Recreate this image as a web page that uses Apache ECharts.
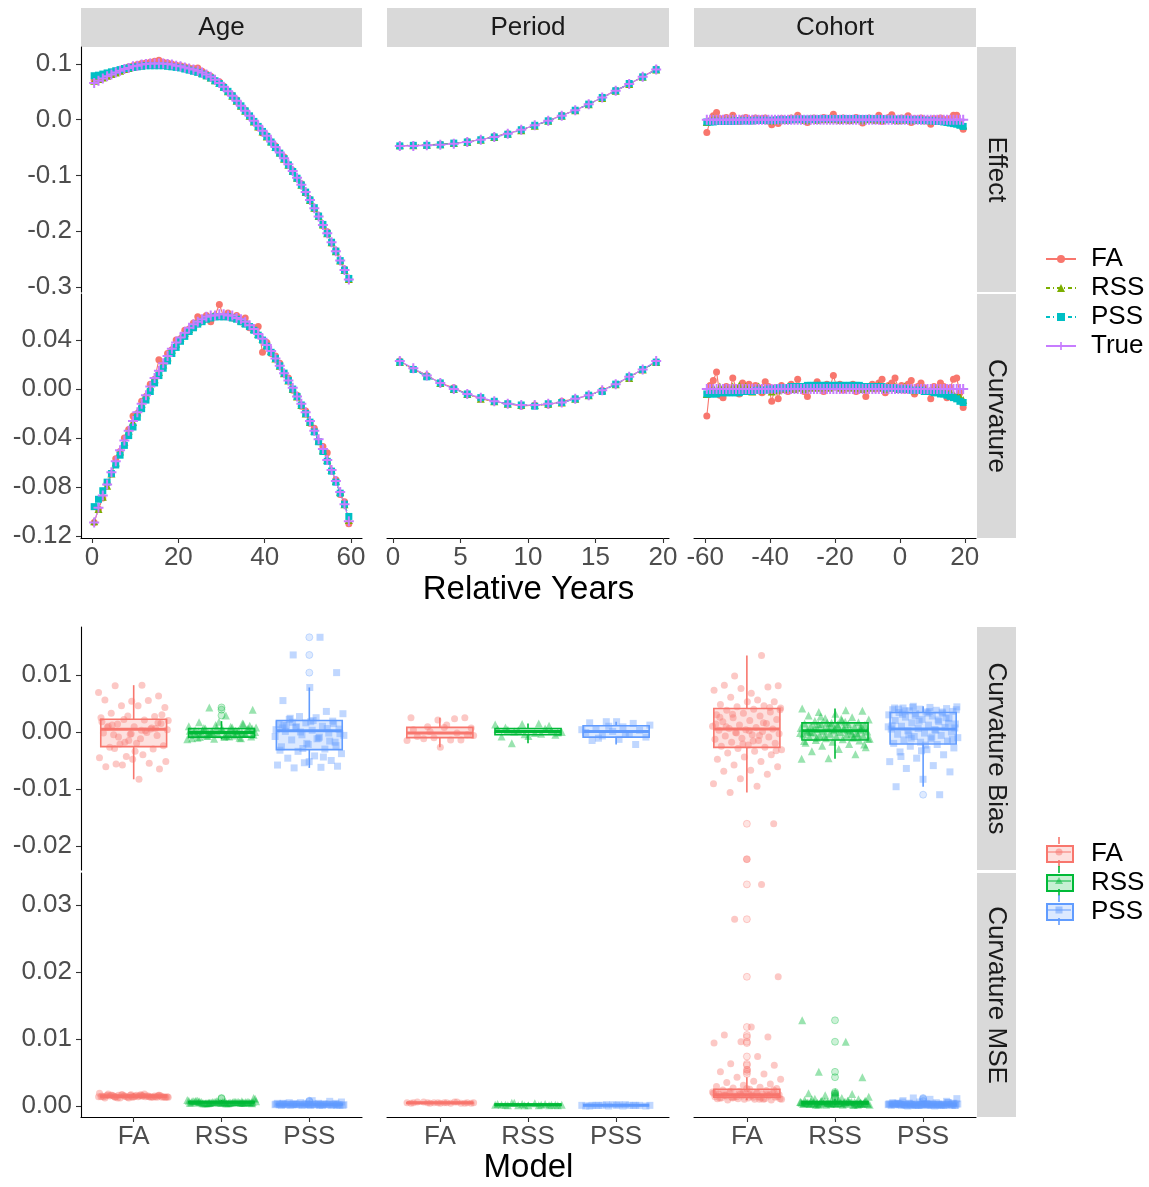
<!DOCTYPE html>
<html>
<head>
<meta charset="utf-8">
<script src="https://cdn.jsdelivr.net/npm/echarts@6/dist/echarts.min.js"></script>
<style>
  html, body { margin: 0; padding: 0; background: #fff; }
  #chart { width: 1149px; height: 1187px; }
</style>
</head>
<body>
<div id="chart"></div>
<script>
// ---- x positions ----
const ageX = [0.5,1.5,2.5,3.5,4.5,5.5,6.5,7.5,8.5,9.5,
  10.5,11.5,12.5,13.5,14.5,15.5,16.5,17.5,18.5,19.5,
  20.5,21.5,22.5,23.5,24.5,25.5,26.5,27.5,28.5,29.5,
  30.5,31.5,32.5,33.5,34.5,35.5,36.5,37.5,38.5,39.5,
  40.5,41.5,42.5,43.5,44.5,45.5,46.5,47.5,48.5,49.5,
  50.5,51.5,52.5,53.5,54.5,55.5,56.5,57.5,58.5,59.5];
const periodX = [0.5,1.5,2.5,3.5,4.5,5.5,6.5,7.5,8.5,9.5,
  10.5,11.5,12.5,13.5,14.5,15.5,16.5,17.5,18.5,19.5];
const cohortX = [-59.5,-58.5,-57.5,-56.5,-55.5,-54.5,-53.5,-52.5,-51.5,-50.5,
  -49.5,-48.5,-47.5,-46.5,-45.5,-44.5,-43.5,-42.5,-41.5,-40.5,
  -39.5,-38.5,-37.5,-36.5,-35.5,-34.5,-33.5,-32.5,-31.5,-30.5,
  -29.5,-28.5,-27.5,-26.5,-25.5,-24.5,-23.5,-22.5,-21.5,-20.5,
  -19.5,-18.5,-17.5,-16.5,-15.5,-14.5,-13.5,-12.5,-11.5,-10.5,
  -9.5,-8.5,-7.5,-6.5,-5.5,-4.5,-3.5,-2.5,-1.5,-0.5,
  0.5,1.5,2.5,3.5,4.5,5.5,6.5,7.5,8.5,9.5,
  10.5,11.5,12.5,13.5,14.5,15.5,16.5,17.5,18.5,19.5];

// ---- Age effect ----
const effAgeFA = [0.071,0.073,0.076,0.079,0.082,0.086,0.089,0.092,0.095,0.097,
  0.099,0.101,0.102,0.103,0.105,0.107,0.103,0.102,0.100,0.098,
  0.097,0.095,0.093,0.092,0.093,0.087,0.082,0.078,0.070,0.068,
  0.060,0.050,0.044,0.036,0.024,0.017,0.006,-0.004,-0.014,-0.024,
  -0.029,-0.040,-0.047,-0.060,-0.067,-0.082,-0.091,-0.106,-0.115,-0.131,
  -0.143,-0.160,-0.172,-0.190,-0.201,-0.222,-0.235,-0.254,-0.268,-0.287];
const effAgeRSS = [0.070,0.073,0.076,0.079,0.082,0.085,0.088,0.091,0.093,0.095,
  0.097,0.098,0.099,0.100,0.100,0.100,0.100,0.099,0.098,0.097,
  0.095,0.094,0.092,0.090,0.087,0.084,0.080,0.076,0.071,0.066,
  0.059,0.051,0.043,0.034,0.025,0.016,0.007,-0.003,-0.012,-0.021,
  -0.030,-0.039,-0.049,-0.059,-0.070,-0.081,-0.092,-0.104,-0.117,-0.130,
  -0.144,-0.158,-0.173,-0.188,-0.204,-0.220,-0.236,-0.253,-0.270,-0.286];
const effAgePSS = [0.079,0.080,0.082,0.084,0.086,0.088,0.090,0.092,0.093,0.094,
  0.095,0.096,0.097,0.097,0.097,0.097,0.097,0.096,0.095,0.094,
  0.093,0.091,0.089,0.087,0.085,0.082,0.079,0.075,0.070,0.065,
  0.058,0.051,0.043,0.034,0.025,0.016,0.007,-0.003,-0.012,-0.021,
  -0.030,-0.040,-0.050,-0.060,-0.070,-0.081,-0.093,-0.105,-0.117,-0.130,
  -0.144,-0.158,-0.173,-0.188,-0.204,-0.220,-0.236,-0.253,-0.270,-0.285];
const effAgeTrue = [0.066,0.070,0.074,0.078,0.081,0.085,0.088,0.091,0.093,0.096,
  0.097,0.099,0.100,0.101,0.101,0.101,0.101,0.100,0.099,0.097,
  0.096,0.094,0.092,0.090,0.088,0.085,0.081,0.077,0.072,0.066,
  0.059,0.051,0.043,0.034,0.025,0.016,0.007,-0.002,-0.011,-0.020,
  -0.029,-0.039,-0.049,-0.059,-0.069,-0.080,-0.092,-0.104,-0.117,-0.130,
  -0.144,-0.159,-0.174,-0.189,-0.204,-0.220,-0.236,-0.253,-0.270,-0.287];

// ---- Age curvature ----
const curAgeFA = [-0.109,-0.098,-0.089,-0.077,-0.069,-0.057,-0.051,-0.040,-0.033,-0.022,
  -0.020,-0.010,-0.006,0.004,0.008,0.024,0.020,0.029,0.032,0.040,
  0.041,0.048,0.049,0.054,0.059,0.056,0.060,0.055,0.060,0.069,
  0.059,0.062,0.058,0.060,0.055,0.058,0.050,0.049,0.051,0.030,
  0.038,0.029,0.027,0.021,0.013,0.009,-0.001,-0.005,-0.014,-0.018,
  -0.028,-0.032,-0.043,-0.047,-0.052,-0.067,-0.074,-0.086,-0.092,-0.110];
const curAgeRSS = [-0.108,-0.098,-0.088,-0.079,-0.069,-0.060,-0.051,-0.043,-0.034,-0.027,
  -0.019,-0.012,-0.005,0.002,0.008,0.014,0.020,0.026,0.032,0.037,
  0.042,0.046,0.049,0.052,0.055,0.057,0.058,0.059,0.060,0.060,
  0.060,0.060,0.059,0.058,0.056,0.054,0.052,0.049,0.045,0.041,
  0.036,0.031,0.025,0.019,0.013,0.007,0.000,-0.006,-0.013,-0.020,
  -0.027,-0.034,-0.042,-0.050,-0.058,-0.066,-0.075,-0.084,-0.094,-0.107];
const curAgePSS = [-0.096,-0.090,-0.083,-0.076,-0.069,-0.062,-0.054,-0.046,-0.038,-0.031,
  -0.023,-0.016,-0.009,-0.002,0.005,0.011,0.017,0.023,0.029,0.034,
  0.039,0.043,0.047,0.050,0.053,0.055,0.057,0.058,0.059,0.059,
  0.059,0.059,0.058,0.057,0.055,0.053,0.051,0.048,0.044,0.040,
  0.035,0.030,0.025,0.019,0.013,0.007,0.000,-0.006,-0.013,-0.020,
  -0.027,-0.035,-0.043,-0.051,-0.059,-0.067,-0.076,-0.085,-0.094,-0.104];
const curAgeTrue = [-0.109,-0.097,-0.087,-0.078,-0.068,-0.059,-0.050,-0.042,-0.034,-0.026,
  -0.019,-0.012,-0.005,0.002,0.009,0.015,0.021,0.027,0.033,0.038,
  0.042,0.046,0.050,0.053,0.055,0.057,0.059,0.060,0.060,0.061,
  0.061,0.060,0.060,0.058,0.057,0.055,0.052,0.049,0.045,0.041,
  0.036,0.031,0.025,0.019,0.013,0.007,0.001,-0.006,-0.012,-0.019,
  -0.026,-0.034,-0.041,-0.049,-0.058,-0.066,-0.075,-0.084,-0.094,-0.108];

// ---- Period effect / curvature ----
const effPerFA = [-0.047,-0.046,-0.046,-0.044,-0.043,-0.039,-0.036,-0.030,-0.025,-0.018,
  -0.010,-0.002,0.008,0.017,0.028,0.040,0.053,0.064,0.077,0.091];
const effPerRSS = [-0.046,-0.046,-0.045,-0.044,-0.042,-0.040,-0.036,-0.031,-0.025,-0.019,
  -0.011,-0.002,0.007,0.017,0.028,0.039,0.052,0.064,0.077,0.090];
const effPerPSS = [-0.047,-0.046,-0.046,-0.045,-0.042,-0.040,-0.036,-0.031,-0.026,-0.018,
  -0.010,-0.002,0.007,0.017,0.028,0.040,0.052,0.065,0.077,0.090];
const effPerTrue = [-0.047,-0.047,-0.046,-0.045,-0.043,-0.040,-0.036,-0.031,-0.025,-0.018,
  -0.010,-0.002,0.007,0.017,0.028,0.040,0.052,0.064,0.077,0.090];
const curPerFA = [0.023,0.016,0.011,0.005,0.001,-0.004,-0.008,-0.010,-0.012,-0.014,
  -0.013,-0.013,-0.010,-0.008,-0.005,-0.001,0.004,0.010,0.016,0.022];
const curPerRSS = [0.022,0.017,0.011,0.005,0.000,-0.004,-0.008,-0.010,-0.012,-0.013,
  -0.013,-0.012,-0.011,-0.008,-0.005,-0.001,0.004,0.009,0.016,0.022];
const curPerPSS = [0.022,0.016,0.010,0.005,0.000,-0.004,-0.007,-0.010,-0.012,-0.013,
  -0.014,-0.012,-0.011,-0.008,-0.005,-0.002,0.004,0.010,0.016,0.022];
const curPerTrue = [0.023,0.017,0.011,0.005,0.000,-0.004,-0.007,-0.010,-0.012,-0.013,
  -0.013,-0.012,-0.011,-0.008,-0.005,-0.001,0.004,0.010,0.016,0.023];

// ---- Cohort effect ----
const effCohFA = [-0.023,-0.002,0.007,0.013,0.002,-0.003,0.004,0.001,0.008,-0.001,
  -0.003,0.002,0.004,-0.002,0.001,0.003,-0.001,0.002,0.003,-0.002,
  -0.009,0.000,-0.007,0.002,0.001,-0.002,0.003,0.001,0.008,0.002,
  -0.001,-0.005,0.002,0.003,-0.001,0.002,0.004,0.001,0.003,0.010,
  0.002,-0.001,0.003,0.001,-0.002,0.002,0.004,0.000,-0.006,0.001,
  0.003,0.002,-0.001,0.008,-0.003,0.002,0.004,0.009,0.001,-0.002,
  0.003,0.001,0.007,-0.005,0.002,0.000,0.003,-0.002,0.001,-0.008,
  0.002,-0.001,0.003,0.001,-0.003,0.002,0.008,0.008,-0.004,-0.017];
const effCohRSS = [-0.004,0.001,0.003,0.002,0.000,-0.001,0.002,0.000,0.003,0.001,
  -0.001,0.002,0.000,0.001,-0.001,0.002,0.001,0.000,0.002,-0.001,
  -0.002,0.001,-0.001,0.002,0.000,0.001,0.002,0.001,0.003,0.001,
  0.000,-0.001,0.002,0.001,0.000,0.002,0.001,0.002,0.001,0.003,
  0.001,0.000,0.002,0.001,0.000,0.001,0.002,0.001,-0.001,0.001,
  0.002,0.001,0.000,0.002,0.000,0.001,0.002,0.002,0.000,-0.001,
  0.001,0.000,0.002,-0.001,0.000,0.000,0.001,-0.001,0.000,-0.002,
  0.000,-0.001,0.000,-0.001,-0.002,-0.003,-0.002,-0.004,-0.007,-0.010];
const effCohPSS = [-0.004,-0.004,-0.004,-0.003,-0.003,-0.003,-0.003,-0.003,-0.003,-0.002,
  -0.002,-0.002,-0.002,-0.002,-0.002,-0.001,-0.001,-0.001,-0.001,-0.001,
  -0.001,-0.001,0.000,0.000,0.000,0.000,0.000,0.001,0.001,0.001,
  0.001,0.001,0.001,0.001,0.001,0.002,0.002,0.002,0.002,0.002,
  0.002,0.002,0.002,0.002,0.002,0.002,0.002,0.002,0.002,0.002,
  0.002,0.002,0.002,0.002,0.002,0.001,0.001,0.001,0.001,0.001,
  0.001,0.001,0.000,0.000,0.000,0.000,-0.001,-0.001,-0.001,-0.002,
  -0.002,-0.003,-0.003,-0.004,-0.005,-0.006,-0.007,-0.008,-0.010,-0.012];
const effCohTrue = [0,0,0,0,0,0,0,0,0,0, 0,0,0,0,0,0,0,0,0,0,
  0,0,0,0,0,0,0,0,0,0, 0,0,0,0,0,0,0,0,0,0,
  0,0,0,0,0,0,0,0,0,0, 0,0,0,0,0,0,0,0,0,0,
  0,0,0,0,0,0,0,0,0,0, 0,0,0,0,0,0,0,0,0,0];

// ---- Cohort curvature ----
const curCohFA = [-0.022,0.003,0.007,0.014,-0.005,-0.007,0.002,-0.002,0.009,0.001,
  -0.004,0.005,0.001,0.004,-0.002,0.003,0.001,-0.003,0.006,0.002,
  -0.010,0.001,-0.008,0.003,0.000,-0.002,0.004,0.002,0.008,0.001,
  -0.002,-0.006,0.002,0.003,0.006,0.001,-0.002,0.004,0.002,0.011,
  0.002,0.004,-0.001,0.003,0.001,0.004,-0.002,0.002,0.001,-0.006,
  0.002,0.004,0.000,0.005,0.008,-0.003,0.003,0.005,0.009,0.001,
  0.003,-0.001,0.004,0.007,-0.004,0.002,0.005,0.001,-0.002,-0.008,
  0.002,0.000,0.005,0.002,-0.007,0.001,0.008,0.009,-0.003,-0.015];
const curCohRSS = [-0.004,-0.002,0.001,-0.002,0.002,-0.001,0.001,-0.002,0.002,0.000,
  0.003,-0.001,0.002,0.001,-0.002,0.001,0.002,-0.001,0.001,0.000,
  -0.002,0.001,-0.001,0.001,0.000,0.002,0.001,0.000,0.002,0.001,
  0.000,0.001,0.002,0.001,0.003,0.001,0.002,0.002,0.001,0.002,
  0.003,0.001,0.002,0.002,0.001,0.003,0.001,0.002,0.000,0.001,
  0.002,0.001,0.002,0.003,0.001,0.000,0.002,0.001,0.002,0.000,
  0.001,0.002,0.000,0.001,-0.001,0.001,0.000,0.001,-0.001,0.000,
  -0.001,0.001,-0.002,-0.001,-0.003,-0.002,-0.004,-0.005,-0.006,-0.009];
const curCohPSS = [-0.004,-0.004,-0.004,-0.004,-0.003,-0.003,-0.003,-0.003,-0.003,-0.003,
  -0.003,-0.002,-0.002,-0.002,-0.002,-0.001,-0.001,-0.001,-0.001,0.000,
  0.000,0.000,0.001,0.001,0.001,0.001,0.002,0.002,0.002,0.002,
  0.002,0.003,0.003,0.003,0.003,0.003,0.003,0.003,0.003,0.003,
  0.003,0.003,0.003,0.003,0.003,0.003,0.003,0.003,0.002,0.002,
  0.002,0.002,0.002,0.002,0.002,0.001,0.001,0.001,0.001,0.000,
  0.000,0.000,0.000,-0.001,-0.001,-0.001,-0.001,-0.002,-0.002,-0.002,
  -0.003,-0.003,-0.004,-0.004,-0.005,-0.006,-0.007,-0.008,-0.010,-0.011];
const curCohTrue = [0,0,0,0,0,0,0,0,0,0, 0,0,0,0,0,0,0,0,0,0,
  0,0,0,0,0,0,0,0,0,0, 0,0,0,0,0,0,0,0,0,0,
  0,0,0,0,0,0,0,0,0,0, 0,0,0,0,0,0,0,0,0,0,
  0,0,0,0,0,0,0,0,0,0, 0,0,0,0,0,0,0,0,0,0];

// ---- Curvature bias points (x 1e-3) ----
const biasAgeFA = [6.9,8.2,8.1,6.3,5.4,5.6,5.5,4.6,4.3,4.6,3.3,2.7,2.8,2.5,2.1,1.4,1.5,0.9,0.8,0.5,
  2.2,0.4,-1.2,-0.5,-0.6,-0.4,-0.2,-0.1,-2.1,-2.4,-2.0,-2.7,-3.0,-4.3,-4.5,-4.0,-5.6,-6.5,-4.8,-6.1,
  -5.5,-5.8,-5.2,-8.3,1.2,0.6,-1.5,1.8,0.2,-0.9,3.0,-3.4,1.0,0.7,-1.8,2.0,0.3,-2.9,1.6,-0.3];
const biasAgeRSS = [4.3,3.9,2.9,1.7,1.5,1.2,1.0,0.8,0.6,0.5,0.4,0.3,0.2,0.1,0.0,-0.1,-0.2,-0.3,-0.4,-0.5,
  -0.6,-0.7,-0.8,-0.9,-1.0,-1.1,-1.2,-1.3,0.9,0.7,0.5,0.3,0.1,-0.1,-0.3,-0.5,-0.7,-0.9,1.4,0.6,
  0.2,-0.2,-0.6,1.1,0.4,-0.4,-1.0,0.0,0.8,-0.8,0.3,-0.3,1.8,-1.1,0.2,-0.2,0.6,-0.6,0.1,-0.1];
const biasAgePSS = [16.6,13.5,10.4,7.8,5.5,3.6,2.7,3.2,2.5,2.2,1.9,1.6,1.3,1.0,0.8,0.5,0.3,0.1,-0.2,-0.5,
  -0.8,-1.1,-1.4,-1.8,-2.2,-2.6,-3.0,-3.4,-3.8,-4.2,-4.6,-5.0,-5.4,-5.8,-6.2,-6.3,-6.0,1.8,1.2,0.6,
  0.0,-0.6,-1.2,2.4,1.5,-2.0,-3.2,-4.4,0.9,-0.3,2.0,1.1,-1.6,-2.9,0.4,-0.9,1.7,-2.4,-5.2,0.7];
const biasPerFA = [2.5,2.1,2.5,2.3,0.9,0.7,0.8,-0.8,-1.4,-1.0,-1.5,-1.4,-1.2,-0.5,-2.7,0.4,-0.2,0.1,-0.6,1.2];
const biasPerRSS = [0.8,1.1,1.4,1.3,1.5,-2.0,-0.5,-0.7,-0.8,0.6,0.3,0.0,-0.2,0.4,0.2,-0.4,0.5,-0.3,0.1,-0.1];
const biasPerPSS = [1.8,1.6,1.5,1.8,1.2,0.9,0.6,0.3,0.1,-0.1,-0.4,-0.7,-0.9,-1.3,-1.5,-2.2,1.0,0.4,-0.3,-1.1];
const biasCohFA = [13.4,9.8,8.1,6.8,8.2,7.9,7.6,7.3,5.6,6.1,5.3,5.3,4.8,4.6,4.4,4.2,4.0,3.8,3.5,3.3,
  3.0,2.8,2.5,2.2,2.0,1.8,1.5,1.2,1.0,0.8,0.6,0.5,0.4,0.3,0.1,-0.1,-0.3,-0.5,-0.7,-0.9,
  -1.1,-1.3,-1.5,-1.8,-2.0,-2.3,-2.5,-2.7,-2.9,-3.1,-3.4,-3.7,-4.0,-4.4,-4.8,-5.2,-5.8,-6.1,-6.7,-6.9,
  -7.4,-8.2,-9.1,-9.5,-10.6,-16.1,-22.3,2.6,1.6,-0.2,3.9,-1.6,0.9,4.3,-2.1,1.4,-0.6,3.1,-3.3,0.2];
const biasCohRSS = [4.1,3.8,3.5,3.7,3.2,2.9,2.6,2.4,2.2,2.0,1.9,1.7,1.6,1.5,1.4,1.3,1.2,1.1,1.0,0.9,
  0.8,0.7,0.6,0.5,0.4,0.3,0.3,0.2,0.2,0.1,0.0,-0.1,-0.2,-0.3,-0.4,-0.5,-0.6,-0.7,-0.8,-0.9,
  -1.0,-1.1,-1.2,-1.3,-1.4,-1.5,-1.7,-1.9,-2.1,-2.4,-2.7,-3.0,-3.4,-3.9,-4.6,-4.7,1.8,1.4,0.9,0.5,
  0.1,-0.3,-0.8,-1.2,2.3,0.7,-0.5,1.1,-1.6,0.4,2.7,-2.2,1.3,0.0,-0.9,1.6,-0.2,0.6,-1.0,0.8];
const biasCohPSS = [4.5,4.4,4.3,4.2,4.1,4.0,3.9,3.8,3.7,3.6,3.5,3.4,3.3,3.2,3.0,2.8,2.6,2.4,2.2,2.0,
  1.8,1.6,1.4,1.2,1.0,0.8,0.6,0.5,0.4,0.2,0.0,-0.2,-0.4,-0.6,-0.8,-1.0,-1.2,-1.4,-1.6,-1.8,
  -2.0,-2.2,-2.5,-2.8,-3.1,-3.5,-4.0,-4.6,-5.2,-5.9,-6.4,-7.0,-8.3,-9.6,-11.0,4.3,3.9,3.6,3.1,2.5,
  1.9,1.1,0.3,-0.5,-1.3,-2.3,4.0,3.5,2.9,0.9,-0.9,3.7,1.5,-3.3,4.2,2.1,-1.1,0.7,3.3,-4.3];

// ---- Curvature MSE points (x 1e-3) ----
const mseAgeFA = [1.4,1.5,1.3,1.6,1.4,1.2,1.5,1.7,1.3,1.4,1.6,1.5,1.3,1.4,1.8,1.2,1.5,1.4,1.6,1.3,
  1.5,1.4,1.7,1.5,1.3,1.6,1.4,1.5,1.2,1.4,1.6,1.5,1.3,1.4,1.9,1.5,1.4,1.6,1.3,1.5,
  1.4,1.7,1.3,1.5,1.6,1.4,1.2,1.5,1.4,1.6,1.3,1.5,1.8,1.4,1.5,1.3,1.6,1.4,1.5,1.7];
const mseAgeRSS = [0.5,0.6,0.4,0.7,0.5,0.6,0.8,0.5,0.4,0.6,0.5,0.7,0.6,0.5,1.1,0.4,0.6,0.5,0.7,0.5,
  0.6,0.4,0.5,0.6,0.8,0.5,0.6,0.9,0.5,0.4,0.6,0.5,0.7,0.6,0.5,1.2,0.4,0.6,0.5,0.7,
  0.5,0.6,0.4,0.5,0.6,0.8,0.5,0.6,0.7,0.5,0.4,0.6,0.5,0.7,0.6,0.5,0.4,0.6,0.5,0.7];
const mseAgePSS = [0.2,0.3,0.1,0.2,0.4,0.2,0.3,0.1,0.2,0.5,0.2,0.3,0.2,0.1,0.3,0.2,0.8,0.2,0.3,0.1,
  0.2,0.4,0.2,0.3,0.2,0.1,0.3,0.2,0.6,0.2,0.3,0.1,0.2,0.4,0.2,0.3,0.2,0.1,0.3,0.2,
  0.5,0.2,0.3,0.1,0.2,0.4,0.2,0.3,0.2,0.1,0.3,0.2,0.7,0.2,0.3,0.1,0.2,0.4,0.2,0.3];
const msePerFA = [0.4,0.5,0.4,0.6,0.5,0.4,0.5,0.6,0.4,0.5,0.5,0.4,0.6,0.5,0.4,0.5,0.6,0.4,0.5,0.5];
const msePerRSS = [0.2,0.1,0.3,0.2,0.1,0.5,0.2,0.1,0.2,0.3,0.1,0.2,0.4,0.1,0.2,0.1,0.3,0.2,0.5,0.1];
const msePerPSS = [0.1,0.0,0.1,0.2,0.1,0.0,0.1,0.1,0.2,0.0,0.1,0.1,0.0,0.2,0.1,0.1,0.0,0.1,0.2,0.1];
const mseCohFA = [33.1,27.9,19.3,11.8,10.6,10.3,9.6,9.4,7.4,6.3,6.1,5.4,5.1,4.8,4.3,4.0,3.7,3.5,3.3,3.1,
  2.9,2.8,2.7,2.6,2.5,2.4,2.3,2.2,2.1,2.0,2.0,1.9,1.9,1.8,1.8,1.7,1.7,1.6,1.6,1.5,
  1.5,1.4,1.4,1.3,1.3,1.2,1.2,1.1,1.1,1.0,1.0,0.9,0.9,1.0,1.1,1.2,1.3,1.4,1.5,1.6,
  1.7,1.8,1.9,2.0,2.2,2.4,2.6,1.2,1.0,1.4,1.1,1.3,1.5,1.7,1.9,2.1,1.0,1.2,1.6,1.8];
const mseCohRSS = [12.8,9.6,5.1,4.3,2.1,1.9,1.8,1.6,1.4,1.2,1.1,1.0,0.9,0.9,0.8,0.8,0.7,0.7,0.7,0.6,
  0.6,0.6,0.6,0.5,0.5,0.5,0.5,0.5,0.4,0.4,0.4,0.4,0.4,0.4,0.3,0.3,0.3,0.3,0.3,0.3,
  0.2,0.2,0.2,0.2,0.2,0.3,0.4,0.5,0.6,0.7,0.8,0.9,1.0,0.3,0.4,0.5,0.6,0.2,0.3,0.4,
  0.5,0.6,0.7,0.3,0.4,0.5,0.2,0.3,0.4,0.8,0.6,0.5,0.4,0.3,0.2,0.5,0.6,0.4,0.3,0.5];
const mseCohPSS = [1.2,1.1,1.0,0.8,0.7,0.6,0.5,0.5,0.4,0.4,0.4,0.3,0.3,0.3,0.3,0.3,0.2,0.2,0.2,0.2,
  0.2,0.2,0.1,0.1,0.1,0.1,0.1,0.1,0.0,0.0,0.2,0.3,0.4,0.1,0.2,0.3,0.1,0.2,0.5,0.2,
  0.3,0.1,0.2,0.4,0.3,0.2,0.1,0.2,0.3,0.2,0.1,0.2,0.3,0.4,0.2,0.1,0.3,0.2,0.6,0.2,
  0.1,0.3,0.2,0.4,0.1,0.2,0.3,0.2,0.1,0.2,0.3,0.2,0.5,0.1,0.2,0.3,0.2,0.1,0.2,0.3];

// ---- box stats [lower whisker, Q1, median, Q3, upper whisker] (x 1e-3) ----
const sBiasAgeFA = [-8.3,-2.57,0.47,2.22,8.2];
const sBiasAgeRSS = [-1.3,-0.9,-0.1,0.6,1.9];
const sBiasAgePSS = [-6.3,-3.1,0.2,2.0,7.8];
const sBiasPerFA = [-2.7,-1.0,-0.2,0.8,2.5];
const sBiasPerRSS = [-2.0,-0.5,0.1,0.6,1.5];
const sBiasPerPSS = [-2.2,-0.9,0.1,1.1,1.8];
const sBiasCohFA = [-10.6,-2.7,0.5,4.1,13.4];
const sBiasCohRSS = [-4.7,-1.4,0.2,1.6,4.1];
const sBiasCohPSS = [-9.6,-2.1,0.5,3.4,4.5];
const sMseAgeFA = [1.2,1.35,1.45,1.6,1.9];
const sMseAgeRSS = [0.4,0.5,0.55,0.65,0.9];
const sMseAgePSS = [0.1,0.2,0.2,0.3,0.5];
const sMsePerFA = [0.4,0.4,0.5,0.5,0.6];
const sMsePerRSS = [0.1,0.1,0.2,0.3,0.5];
const sMsePerPSS = [0.0,0.1,0.1,0.1,0.2];
const sMseCohFA = [0.9,1.3,1.7,2.5,4.3];
const sMseCohRSS = [0.2,0.35,0.45,0.65,1.1];
const sMseCohPSS = [0.0,0.1,0.2,0.3,0.6];

const facetNames = ['Age', 'Period', 'Cohort'];
const topRowNames = ['Effect', 'Curvature'];
const botRowNames = ['Curvature Bias', 'Curvature MSE'];
const lineModels = ['FA', 'RSS', 'PSS', 'True'];
const boxModels = ['FA', 'RSS', 'PSS'];
const ageTicks = [0, 20, 40, 60];
const periodTicks = [0, 5, 10, 15, 20];
const cohortTicks = [-60, -40, -20, 0, 20];
const effTicks = [-0.3, -0.2, -0.1, 0, 0.1];
const curTicks = [-0.12, -0.08, -0.04, 0, 0.04];
const biasTicks = [-0.02, -0.01, 0, 0.01];
const mseTicks = [0, 0.01, 0.02, 0.03];

// ---- layout ----
const FONT = '"Liberation Sans", Arial, Helvetica, sans-serif';
const cols = [{ left: 81, width: 281 }, { left: 387, width: 282 }, { left: 694, width: 282 }];
const topRows = [{ top: 47, height: 245 }, { top: 294, height: 244 }];
const botRows = [{ top: 627, height: 243 }, { top: 873, height: 244 }];
const xRanges = [[-2.55, 62.55], [-0.45, 20.45], [-63.45, 23.45]];
const xTicks = [ageTicks, periodTicks, cohortTicks];
const topYRanges = [[-0.3094, 0.1306], [-0.1216, 0.0776]];
const topYTicks = [effTicks, curTicks];
const botYRanges = [[-0.0242, 0.0184], [-0.00164, 0.0348]];
const botYTicks = [biasTicks, mseTicks];

const lineColors = { FA: '#F8766D', RSS: '#7CAE00', PSS: '#00BFC4', True: '#C77CFF' };
const plusPath = 'path://M4,0H6V4H10V6H6V10H4V6H0V4H4Z';
const lineSymbols = { FA: 'circle', RSS: 'triangle', PSS: 'rect', True: plusPath };
const lineSizes = { FA: 7, RSS: 8, PSS: 7, True: 10 };
const lineTypes = { FA: 'solid', RSS: [4, 3, 1, 3], PSS: [4, 3, 1, 3], True: 'solid' };
const boxColors = { FA: '#F8766D', RSS: '#00BA38', PSS: '#619CFF' };
const boxFills = { FA: 'rgba(248,118,109,0.22)', RSS: 'rgba(0,186,56,0.22)', PSS: 'rgba(97,156,255,0.22)' };
const pointFills = { FA: 'rgba(248,118,109,0.5)', RSS: 'rgba(0,186,56,0.5)', PSS: 'rgba(97,156,255,0.5)' };
const outFills = { FA: 'rgba(248,118,109,0.25)', RSS: 'rgba(0,186,56,0.25)', PSS: 'rgba(97,156,255,0.25)' };
const boxSymbols = { FA: 'circle', RSS: 'triangle', PSS: 'rect' };
const boxSizes = { FA: 7, RSS: 8, PSS: 7 };

const topData = [
  [[effAgeFA, effAgeRSS, effAgePSS, effAgeTrue], [effPerFA, effPerRSS, effPerPSS, effPerTrue], [effCohFA, effCohRSS, effCohPSS, effCohTrue]],
  [[curAgeFA, curAgeRSS, curAgePSS, curAgeTrue], [curPerFA, curPerRSS, curPerPSS, curPerTrue], [curCohFA, curCohRSS, curCohPSS, curCohTrue]]
];
const topX = [ageX, periodX, cohortX];
const botPoints = [
  [[biasAgeFA, biasAgeRSS, biasAgePSS], [biasPerFA, biasPerRSS, biasPerPSS], [biasCohFA, biasCohRSS, biasCohPSS]],
  [[mseAgeFA, mseAgeRSS, mseAgePSS], [msePerFA, msePerRSS, msePerPSS], [mseCohFA, mseCohRSS, mseCohPSS]]
];
const botStats = [
  [[sBiasAgeFA, sBiasAgeRSS, sBiasAgePSS], [sBiasPerFA, sBiasPerRSS, sBiasPerPSS], [sBiasCohFA, sBiasCohRSS, sBiasCohPSS]],
  [[sMseAgeFA, sMseAgeRSS, sMseAgePSS], [sMsePerFA, sMsePerRSS, sMsePerPSS], [sMseCohFA, sMseCohRSS, sMseCohPSS]]
];

const axisLine = { show: true, onZero: false, lineStyle: { color: '#000', width: 1.1 } };
const tickStyle = { length: 5, lineStyle: { color: '#333', width: 1.1 } };
const labelStyle = { fontSize: 26, color: '#4D4D4D', fontFamily: FONT };

// jitter offset for points inside a box column (like geom_jitter, width 0.4)
function jitter(i) {
  return ((i * 0.618034) % 1 - 0.5) * 0.8;
}

function boxRenderer(color, fill) {
  return function (params, api) {
    const x = api.value(0);
    const a = api.coord([x - 0.375, api.value(4)]);
    const b = api.coord([x + 0.375, api.value(2)]);
    const m1 = api.coord([x - 0.375, api.value(3)]);
    const m2 = api.coord([x + 0.375, api.value(3)]);
    const hi = api.coord([x, api.value(5)]);
    const lo = api.coord([x, api.value(1)]);
    return {
      type: 'group',
      children: [
        { type: 'line', shape: { x1: hi[0], y1: hi[1], x2: hi[0], y2: a[1] }, style: { stroke: color, lineWidth: 1.6 } },
        { type: 'line', shape: { x1: lo[0], y1: lo[1], x2: lo[0], y2: b[1] }, style: { stroke: color, lineWidth: 1.6 } },
        { type: 'rect', shape: { x: a[0], y: a[1], width: b[0] - a[0], height: b[1] - a[1] }, style: { fill: fill, stroke: color, lineWidth: 1.6 } },
        { type: 'line', shape: { x1: m1[0], y1: m1[1], x2: m2[0], y2: m2[1] }, style: { stroke: color, lineWidth: 3 } }
      ]
    };
  };
}

const grids = [], xAxes = [], yAxes = [], series = [], graphics = [];

// top facets: lines
topRows.forEach((row, r) => {
  cols.forEach((col, c) => {
    const gi = grids.length;
    grids.push({ left: col.left, top: row.top, width: col.width, height: row.height, containLabel: false, outerBoundsMode: 'none' });
    xAxes.push({
      type: 'value', gridIndex: gi, min: xRanges[c][0], max: xRanges[c][1], show: r === 1,
      axisLine: axisLine, splitLine: { show: false },
      axisTick: Object.assign({ customValues: xTicks[c] }, tickStyle),
      axisLabel: Object.assign({ customValues: xTicks[c], margin: 7, formatter: v => String(v) }, labelStyle)
    });
    yAxes.push({
      type: 'value', gridIndex: gi, min: topYRanges[r][0], max: topYRanges[r][1], show: c === 0,
      axisLine: axisLine, splitLine: { show: false },
      axisTick: Object.assign({ customValues: topYTicks[r] }, tickStyle),
      axisLabel: Object.assign({ customValues: topYTicks[r], margin: 9, formatter: v => v.toFixed(r === 0 ? 1 : 2) }, labelStyle)
    });
    lineModels.forEach((m, k) => {
      const ys = topData[r][c][k];
      series.push({
        type: 'line', name: m, xAxisIndex: gi, yAxisIndex: gi,
        data: topX[c].map((x, i) => [x, ys[i]]),
        symbol: lineSymbols[m], symbolSize: lineSizes[m], showSymbol: true, showAllSymbol: true,
        lineStyle: { color: lineColors[m], width: 1.1, type: lineTypes[m] },
        itemStyle: { color: lineColors[m] },
        emphasis: { disabled: true }, silent: true
      });
    });
  });
});

// bottom facets: box plots with jittered points
botRows.forEach((row, r) => {
  cols.forEach((col, c) => {
    const gi = grids.length;
    grids.push({ left: col.left, top: row.top, width: col.width, height: row.height, containLabel: false, outerBoundsMode: 'none' });
    xAxes.push({
      type: 'value', gridIndex: gi, min: -0.6, max: 2.6, show: r === 1,
      axisLine: axisLine, splitLine: { show: false },
      axisTick: Object.assign({ customValues: [0, 1, 2] }, tickStyle),
      axisLabel: Object.assign({ customValues: [0, 1, 2], margin: 7, formatter: v => boxModels[Math.round(v)] }, labelStyle)
    });
    yAxes.push({
      type: 'value', gridIndex: gi, min: botYRanges[r][0], max: botYRanges[r][1], show: c === 0,
      axisLine: axisLine, splitLine: { show: false },
      axisTick: Object.assign({ customValues: botYTicks[r] }, tickStyle),
      axisLabel: Object.assign({ customValues: botYTicks[r], margin: 9, formatter: v => v.toFixed(2) }, labelStyle)
    });
    boxModels.forEach((m, k) => {
      const st = botStats[r][c][k].map(v => v / 1000);
      const pts = botPoints[r][c][k].map(v => v / 1000);
      const legendName = m + ' ';
      series.push({
        type: 'custom', name: legendName, xAxisIndex: gi, yAxisIndex: gi,
        renderItem: boxRenderer(boxColors[m], boxFills[m]),
        encode: { x: 0, y: [1, 2, 3, 4, 5] },
        itemStyle: { color: boxColors[m] },
        data: [[k].concat(st)], silent: true, z: 2
      });
      series.push({
        type: 'scatter', name: legendName, xAxisIndex: gi, yAxisIndex: gi,
        data: pts.filter(v => v < st[0] - 1e-9 || v > st[4] + 1e-9).map(v => [k, v]),
        symbol: 'circle', symbolSize: 7,
        itemStyle: { color: outFills[m], borderColor: pointFills[m], borderWidth: 0.8 },
        silent: true, z: 3
      });
      series.push({
        type: 'scatter', name: legendName, xAxisIndex: gi, yAxisIndex: gi,
        data: pts.map((v, i) => [k + jitter(i + 7 * k + 3 * c), v]),
        symbol: boxSymbols[m], symbolSize: boxSizes[m],
        itemStyle: { color: pointFills[m] },
        silent: true, z: 4
      });
    });
  });
});

// facet strips
const stripFill = '#D9D9D9';
cols.forEach((col, c) => {
  graphics.push({ type: 'rect', shape: { x: col.left, y: 8, width: col.width, height: 39 }, style: { fill: stripFill }, silent: true });
  graphics.push({ type: 'text', x: col.left + col.width / 2, y: 28, style: { text: facetNames[c], fill: '#1A1A1A', font: '26px ' + FONT, align: 'center', verticalAlign: 'middle' }, silent: true });
});
const rightRows = [topRows[0], topRows[1], botRows[0], botRows[1]];
const rightNames = [topRowNames[0], topRowNames[1], botRowNames[0], botRowNames[1]];
rightRows.forEach((row, i) => {
  graphics.push({ type: 'rect', shape: { x: 977, y: row.top, width: 39, height: row.height }, style: { fill: stripFill }, silent: true });
  graphics.push({ type: 'text', x: 996.5, y: row.top + row.height / 2, rotation: -Math.PI / 2, style: { text: rightNames[i], fill: '#1A1A1A', font: '26px ' + FONT, align: 'center', verticalAlign: 'middle' }, silent: true });
});
// axis titles
graphics.push({ type: 'text', x: 528.5, y: 590, style: { text: 'Relative Years', fill: '#000', font: '33px ' + FONT, align: 'center', verticalAlign: 'middle' }, silent: true });
graphics.push({ type: 'text', x: 528.5, y: 1168, style: { text: 'Model', fill: '#000', font: '33px ' + FONT, align: 'center', verticalAlign: 'middle' }, silent: true });

// whiskers, median and point marks on the box legend keys
boxModels.forEach((m, k) => {
  const cx = 1059, cy = 852 + 29 * k;
  graphics.push({ type: 'line', shape: { x1: cx, y1: cy - 15, x2: cx, y2: cy - 8 }, style: { stroke: boxColors[m], lineWidth: 1.6 }, silent: true });
  graphics.push({ type: 'line', shape: { x1: cx, y1: cy + 8, x2: cx, y2: cy + 15 }, style: { stroke: boxColors[m], lineWidth: 1.6 }, silent: true });
  graphics.push({ type: 'line', shape: { x1: cx - 12, y1: cy, x2: cx + 12, y2: cy }, style: { stroke: pointFills[m], lineWidth: 2 }, silent: true });
  let mark;
  if (m === 'FA') mark = { type: 'circle', shape: { cx: cx, cy: cy, r: 3.5 } };
  else if (m === 'RSS') mark = { type: 'polygon', shape: { points: [[cx, cy - 4], [cx + 4, cy + 3], [cx - 4, cy + 3]] } };
  else mark = { type: 'rect', shape: { x: cx - 3.5, y: cy - 3.5, width: 7, height: 7 } };
  mark.style = { fill: pointFills[m] };
  mark.silent = true;
  graphics.push(mark);
});

const chart = echarts.init(document.getElementById('chart'), null, { renderer: 'canvas' });
chart.setOption({
  animation: false,
  backgroundColor: '#ffffff',
  textStyle: { fontFamily: FONT },
  grid: grids,
  xAxis: xAxes,
  yAxis: yAxes,
  legend: [
    {
      data: lineModels, orient: 'vertical', left: 1040, top: 241,
      itemWidth: 30, itemHeight: 10, itemGap: 3,
      textStyle: { fontSize: 26, color: '#000', fontFamily: FONT, lineHeight: 26, padding: [0, 0, 0, 10] },
      selectedMode: false
    },
    {
      data: boxModels.map(m => ({
        name: m + ' ', icon: 'rect',
        itemStyle: { color: boxFills[m], borderColor: boxColors[m], borderWidth: 2 }
      })),
      orient: 'vertical', left: 1041, top: 836,
      itemWidth: 26, itemHeight: 16, itemGap: 3,
      textStyle: { fontSize: 26, color: '#000', fontFamily: FONT, lineHeight: 26, padding: [0, 0, 0, 13] },
      selectedMode: false
    }
  ],
  graphic: graphics,
  series: series
});
</script>
</body>
</html>
